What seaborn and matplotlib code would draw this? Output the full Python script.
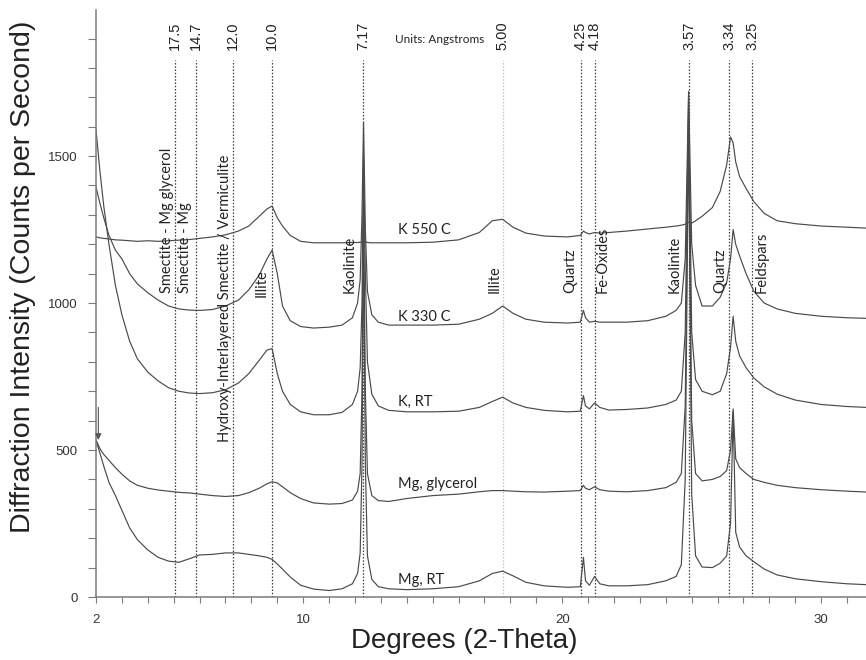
import matplotlib
matplotlib.use("Agg")
import matplotlib.pyplot as plt
from matplotlib.ticker import FixedLocator, MultipleLocator
import pandas as pd
import seaborn as sns

# --- diffraction scans (2-theta in degrees, intensity in counts per second) ---
two_theta = [
    2.0, 2.15, 2.3, 2.5, 2.75, 3.0, 3.3, 3.6, 4.0, 4.4,
    4.8, 5.2, 5.6, 6.0, 6.5, 7.0, 7.5, 7.9, 8.3, 8.6,
    8.8, 9.0, 9.2, 9.5, 9.9, 10.4, 11.0, 11.5, 11.9, 12.1,
    12.2, 12.27, 12.33, 12.4, 12.48, 12.65, 12.9, 13.3, 14.0, 15.0,
    16.0, 16.8, 17.3, 17.7, 18.1, 18.6, 19.3, 20.2, 20.7, 20.82,
    20.9, 21.05, 21.25, 21.45, 21.8, 22.5, 23.3, 24.0, 24.4, 24.6,
    24.75, 24.88, 25.0, 25.15, 25.4, 25.8, 26.1, 26.35, 26.5, 26.6,
    26.7, 26.85, 27.1, 27.4, 27.8, 28.3, 29.0, 30.0, 31.0, 31.75,
]

k_550c = [
    1225, 1222, 1220, 1218, 1215, 1214, 1212, 1210, 1212, 1210,
    1212, 1214, 1216, 1220, 1225, 1232, 1245, 1262, 1295, 1320,
    1330, 1290, 1262, 1230, 1210, 1205, 1205, 1205, 1206, 1206,
    1207, 1208, 1210, 1208, 1206, 1205, 1205, 1205, 1205, 1207,
    1215, 1240, 1280, 1285, 1258, 1238, 1228, 1225, 1230, 1245,
    1240, 1235, 1240, 1238, 1240, 1245, 1252, 1258, 1262, 1265,
    1268, 1275, 1272, 1280, 1295, 1325, 1380, 1470, 1565, 1545,
    1480, 1430, 1390, 1345, 1305, 1280, 1270, 1262, 1258, 1255,
]

k_330c = [
    1395, 1340, 1290, 1230, 1180, 1150, 1100, 1065, 1035, 1010,
    990, 980, 976, 975, 978, 990, 1010, 1045, 1095, 1150,
    1180, 1100, 990, 940, 920, 915, 918, 925, 950, 1000,
    1080, 1300, 1615, 1250, 1040, 960, 935, 925, 925, 925,
    928, 945, 965, 990, 965, 945, 935, 932, 935, 975,
    950, 935, 938, 935, 935, 935, 940, 955, 975, 1000,
    1150, 1720, 1200, 1060, 990, 990, 1020, 1070, 1150, 1250,
    1200, 1160, 1100, 1040, 1000, 980, 965, 955, 950, 948,
]

k_rt = [
    1590, 1450, 1330, 1200, 1060, 960, 870, 810, 765, 735,
    712, 700, 694, 692, 695, 705, 728, 760, 805, 840,
    845, 760, 700, 655, 630, 620, 620, 628, 655, 700,
    780, 1000, 1500, 1100, 800, 690, 650, 635, 630, 630,
    632, 645, 665, 680, 660, 645, 635, 630, 632, 685,
    650, 640, 660, 645, 636, 638, 643, 655, 670, 700,
    900, 1700, 900, 740, 700, 688, 700, 760, 850, 955,
    870, 820, 780, 745, 715, 690, 670, 655, 648, 645,
]

mg_glycerol = [
    534, 505, 485, 465, 440, 418, 395, 380, 370, 364,
    360, 356, 354, 350, 345, 342, 345, 355, 370, 385,
    392, 388, 375, 355, 335, 320, 316, 318, 330, 360,
    420, 700, 1350, 700, 420, 345, 328, 325, 335, 345,
    350, 358, 362, 362, 360, 358, 357, 360, 362, 380,
    370, 365, 375, 365, 360, 358, 362, 372, 390, 420,
    650, 1650, 600, 420, 395, 400, 410, 430, 500, 640,
    470, 440, 420, 400, 390, 380, 372, 365, 360, 357,
]

mg_rt = [
    534, 490, 445, 390, 345, 295, 235, 195, 160, 135,
    122, 118, 130, 143, 145, 150, 150, 145, 140, 135,
    128, 112, 95, 68, 40, 27, 22, 28, 45, 80,
    150, 450, 1250, 450, 140, 60, 35, 28, 25, 28,
    35, 55, 80, 88, 72, 50, 38, 33, 35, 135,
    55, 40, 70, 45, 38, 38, 42, 55, 70, 110,
    400, 1600, 350, 140, 102, 100, 115, 140, 250, 630,
    220, 170, 140, 120, 95, 75, 62, 52, 45, 42,
]

treatments = ["K 550 C", "K 330 C", "K, RT", "Mg, glycerol", "Mg, RT"]
scans = [k_550c, k_330c, k_rt, mg_glycerol, mg_rt]

# --- reference d-spacings (Angstroms) and their 2-theta positions ---
d_spacing_labels = ["17.5", "14.7", "12.0", "10.0", "7.17", "5.00",
                    "4.25", "4.18", "3.57", "3.34", "3.25"]
d_spacing_2theta = [5.05, 5.86, 7.29, 8.80, 12.31, 17.71,
                    20.73, 21.27, 24.90, 26.44, 27.33]

minerals = ["Smectite - Mg glycerol", "Smectite - Mg",
            "Hydroxy-Interlayered Smectite / Vermiculite", "Illite",
            "Kaolinite", "Illite", "Quartz", "Fe-Oxides", "Kaolinite",
            "Quartz", "Feldspars"]

# --- layout of the annotation text ---
mineral_text_x = [4.74, 5.44, 6.98, 8.41, 11.81, 17.41, 20.30, 21.58, 24.36, 26.09, 27.71]
mineral_text_base = [1034, 1034, 527, 1020, 1034, 1034, 1034, 1034, 1034, 1034, 1034]
treatment_text_x = 13.66
treatment_text_y = [1248, 952, 663, 385, 58]

curve_color = "#4a4a4a"
ref_color = "#3c3c3c"
axis_color = "#7a7a7a"

sns.set_theme(style="ticks")
plt.rcParams["font.family"] = ["Liberation Sans", "DejaVu Sans"]

frames = [pd.DataFrame({"two_theta": two_theta, "intensity": ys, "treatment": name})
          for name, ys in zip(treatments, scans)]
df = pd.concat(frames, ignore_index=True)

fig = plt.figure(figsize=(8.66, 6.60), dpi=100)
ax = fig.add_axes([96 / 866, 63 / 660, 770 / 866, 587 / 660])

sns.lineplot(data=df, x="two_theta", y="intensity", hue="treatment",
             palette=[curve_color] * len(treatments), estimator=None,
             sort=False, legend=False, linewidth=0.85, ax=ax)

ax.set_xlim(2, 31.73)
ax.set_ylim(0, 1997)

# dotted reference lines with d-spacing captions above
line_top = 1827
for lab, pos in zip(d_spacing_labels, d_spacing_2theta):
    col = "#c4c4c4" if lab == "5.00" else ref_color
    ax.plot([pos, pos], [0, line_top], color=col, linestyle=(0, (1.2, 1.4)),
            linewidth=0.9, zorder=1)
    ax.text(pos, 1861, lab, rotation=90, ha="center", va="bottom",
            fontsize=10.5, color="#222222")

ax.text(13.54, 1895, "Units: Angstroms", fontsize=8.5, family="Lato",
        va="center", ha="left", color="#222222")

for lab, xm, yb in zip(minerals, mineral_text_x, mineral_text_base):
    ax.text(xm, yb, lab, rotation=90, ha="center", va="bottom",
            fontsize=10.5, family="Lato", color="#222222")

for lab, yt in zip(treatments, treatment_text_y):
    ax.text(treatment_text_x, yt, lab, ha="left", va="center",
            fontsize=10.5, family="Lato", color="#222222")

# scan cursor marker at the start of the Mg scans
ax.annotate("", xy=(2.09, mg_rt[0]), xytext=(2.09, 645),
            arrowprops=dict(arrowstyle="-|>", color="#555555", lw=0.8,
                            mutation_scale=9, shrinkA=0, shrinkB=0))

# axes styling
sns.despine(ax=ax, top=True, right=True)
for side in ("left", "bottom"):
    ax.spines[side].set_color(axis_color)
    ax.spines[side].set_linewidth(1.1)

ax.xaxis.set_major_locator(FixedLocator([2, 10, 20, 30]))
ax.xaxis.set_minor_locator(MultipleLocator(1))
ax.yaxis.set_major_locator(FixedLocator([0, 500, 1000, 1500]))
ax.yaxis.set_minor_locator(MultipleLocator(100))
ax.tick_params(axis="x", which="both", direction="out", length=4, width=0.8,
               color=axis_color, labelsize=9.5, labelcolor="#333333", pad=8)
ax.tick_params(axis="y", which="both", direction="out", length=6, width=0.8,
               color=axis_color, labelsize=9.5, labelcolor="#333333", pad=7)

ax.set_xlabel("Degrees (2-Theta)", fontsize=20, color="#222222")
ax.set_ylabel("Diffraction Intensity (Counts per Second)", fontsize=20.5, color="#222222")
ax.xaxis.set_label_coords(464 / 866, 1 - 628 / 660, transform=fig.transFigure)
ax.yaxis.set_label_coords(36 / 866, 1 - 277 / 660, transform=fig.transFigure)

fig.savefig("out.png", dpi=100)
